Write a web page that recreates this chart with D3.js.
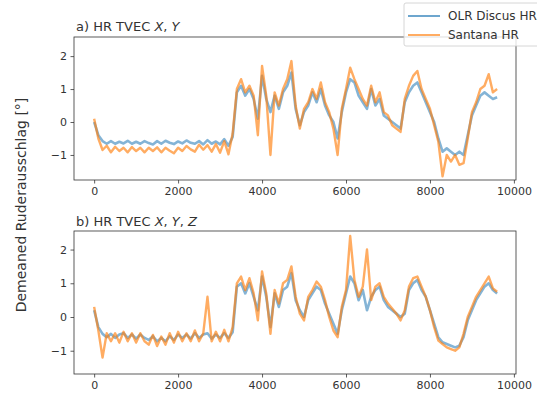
<!DOCTYPE html>
<html><head><meta charset="utf-8">
<script src="https://cdn.jsdelivr.net/npm/d3@7"></script>
<style>
body{margin:0;background:#fff;}
text{font-family:"DejaVu Sans",sans-serif;fill:#333;}
</style></head>
<body><svg id="c" width="537" height="398"></svg>
<script>
const xStep = 100;
const xTicks = [0, 2000, 4000, 6000, 8000, 10000];
const yTicks = [-1, 0, 1, 2];
const seriesNames = ["OLR Discus HR", "Santana HR"];
const panelTitles = [["a) HR TVEC ", "X", ", ", "Y"], ["b) HR TVEC ", "X", ", ", "Y", ", ", "Z"]];
const yLabel = "Demeaned Ruderausschlag [°]";

const topBlue = [0.0,-0.4,-0.58,-0.66,-0.58,-0.66,-0.6,-0.65,-0.57,-0.66,-0.6,-0.66,-0.58,-0.64,-0.68,-0.58,-0.66,-0.57,-0.63,-0.67,-0.59,-0.65,-0.56,-0.63,-0.66,-0.58,-0.68,-0.55,-0.66,-0.59,-0.68,-0.52,-0.72,-0.45,0.9,1.1,0.8,1.0,0.7,0.1,1.4,0.7,0.3,0.8,0.4,0.9,1.1,1.5,0.4,-0.1,0.3,0.5,0.9,0.6,1.0,0.5,0.2,0.0,-0.5,0.3,0.9,1.3,1.2,0.8,0.6,0.4,1.0,0.5,0.7,0.2,0.1,0.0,-0.1,-0.2,0.6,0.9,1.1,1.2,0.9,0.6,0.3,0.0,-0.5,-0.9,-0.8,-0.9,-1.0,-0.9,-1.0,-0.4,0.2,0.5,0.8,0.9,0.8,0.7,0.75];
const topOrange = [0.1,-0.5,-0.85,-0.72,-0.92,-0.75,-0.88,-0.78,-0.92,-0.76,-0.88,-0.78,-0.92,-0.78,-0.88,-0.77,-0.92,-0.78,-0.87,-0.95,-0.78,-0.88,-0.73,-0.83,-0.9,-0.69,-0.84,-0.7,-0.9,-0.67,-0.93,-0.58,-0.98,-0.35,1.0,1.3,0.9,1.1,0.8,-0.4,1.7,0.8,-1.0,0.9,0.5,1.0,1.3,1.85,0.5,-0.2,0.4,0.6,1.0,0.7,1.2,0.6,0.3,-0.2,-1.0,0.4,1.0,1.65,1.3,1.0,0.7,0.5,1.1,0.6,0.9,0.3,0.2,-0.1,-0.2,-0.3,0.7,1.1,1.4,1.55,1.0,0.7,0.4,-0.1,-0.6,-1.65,-1.0,-1.2,-1.0,-1.3,-1.25,-0.5,0.3,0.6,1.0,1.1,1.45,0.9,1.0];
const botBlue = [0.2,-0.3,-0.5,-0.6,-0.5,-0.62,-0.52,-0.48,-0.62,-0.52,-0.64,-0.52,-0.62,-0.68,-0.57,-0.72,-0.62,-0.72,-0.57,-0.68,-0.52,-0.62,-0.52,-0.64,-0.48,-0.62,-0.52,-0.48,-0.64,-0.52,-0.62,-0.48,-0.62,-0.45,0.9,1.0,0.7,1.0,0.6,0.2,1.2,0.6,-0.3,0.7,0.3,0.8,0.9,1.3,0.5,0.2,0.0,0.5,0.7,0.9,0.8,0.4,0.1,-0.2,-0.5,0.2,0.7,1.2,1.0,0.5,0.8,0.2,0.6,0.8,0.9,0.5,0.3,0.2,0.1,0.0,0.1,0.8,1.0,1.1,0.8,0.6,0.2,-0.2,-0.6,-0.75,-0.8,-0.85,-0.9,-0.85,-0.6,-0.1,0.2,0.5,0.7,0.9,1.0,0.8,0.7];
const botOrange = [0.3,-0.4,-1.2,-0.48,-0.72,-0.48,-0.76,-0.44,-0.72,-0.48,-0.76,-0.48,-0.72,-0.82,-0.53,-0.86,-0.58,-0.82,-0.48,-0.76,-0.44,-0.72,-0.48,-0.72,-0.4,-0.72,-0.48,0.6,-0.72,-0.44,-0.72,-0.38,-0.72,-0.3,1.0,1.2,0.8,1.15,0.7,-0.1,1.35,0.7,-0.5,0.8,0.4,1.0,1.1,1.5,0.6,0.1,-0.1,0.6,0.8,1.05,0.9,0.5,0.0,-0.4,-0.6,0.3,0.8,2.4,1.1,0.6,0.9,2.0,0.5,0.9,1.0,0.6,0.4,0.25,0.1,-0.1,0.2,0.9,1.15,1.2,0.9,0.6,0.2,-0.3,-0.7,-0.8,-0.9,-0.95,-1.0,-0.9,-0.5,0.0,0.3,0.6,0.8,1.0,1.2,0.85,0.75];

const colors = ["#1f77b4", "#ff7f0e"];
const svg = d3.select("#c");
const x = d3.scaleLinear().domain([-480, 10050]).range([74, 516]);

const panels = [
  {top: 37, bottom: 180, dom: [-1.76, 2.58], data: [topBlue, topOrange], title: panelTitles[0], titleY: 31},
  {top: 231, bottom: 374, dom: [-1.69, 2.55], data: [botBlue, botOrange], title: panelTitles[1], titleY: 226}
];

panels.forEach(p => {
  const y = d3.scaleLinear().domain(p.dom).range([p.bottom, p.top]);
  const g = svg.append("g");
  const ax = g.append("g").attr("transform", `translate(0,${p.bottom})`)
    .call(d3.axisBottom(x).tickValues(xTicks).tickSize(3.5).tickPadding(3.5).tickFormat(d3.format("d")));
  const ay = g.append("g").attr("transform", `translate(74,0)`)
    .call(d3.axisLeft(y).tickValues(yTicks).tickSize(3.5).tickPadding(3.5).tickFormat(d => d < 0 ? "\u2212" + Math.abs(d) : d));
  [ax, ay].forEach(a => {
    a.select(".domain").remove();
    a.selectAll("text").attr("font-size", 11).attr("fill", "#333").style("font-family", "DejaVu Sans");
    a.selectAll("line").attr("stroke", "#333").attr("stroke-width", 0.8);
  });
  const line = d3.line().x((d, i) => x(i * xStep)).y(d => y(d));
  p.data.forEach((arr, k) => {
    g.append("path").datum(arr).attr("d", line).attr("fill", "none")
      .attr("stroke", colors[k]).attr("stroke-width", k ? 2.4 : 2.6)
      .attr("stroke-opacity", k ? 0.65 : 0.55).attr("stroke-linejoin", "round");
  });
  g.append("rect").attr("x", 74).attr("y", p.top).attr("width", 442).attr("height", p.bottom - p.top)
    .attr("fill", "none").attr("stroke", "#333").attr("stroke-width", 0.8);
  const t = g.append("text").attr("x", 76).attr("y", p.titleY).attr("font-size", 13);
  p.title.forEach((s, i) => t.append("tspan").text(s).attr("font-style", i % 2 === 1 ? "italic" : "normal"));
});

svg.append("text").attr("transform", "translate(26,205) rotate(-90)")
  .attr("text-anchor", "middle").attr("font-size", 14).text(yLabel);

const lg = svg.append("g");
lg.append("rect").attr("x", 404).attr("y", 3).attr("width", 140).attr("height", 43)
  .attr("fill", "#fff").attr("fill-opacity", 0.8).attr("stroke", "#ccc").attr("stroke-width", 0.8).attr("rx", 2);
seriesNames.forEach((n, i) => {
  const yy = 16 + i * 19;
  lg.append("line").attr("x1", 408).attr("x2", 440).attr("y1", yy).attr("y2", yy)
    .attr("stroke", colors[i]).attr("stroke-width", 2).attr("stroke-opacity", 0.65);
  lg.append("text").attr("x", 448).attr("y", yy + 4).attr("font-size", 12).text(n);
});
</script></body></html>
